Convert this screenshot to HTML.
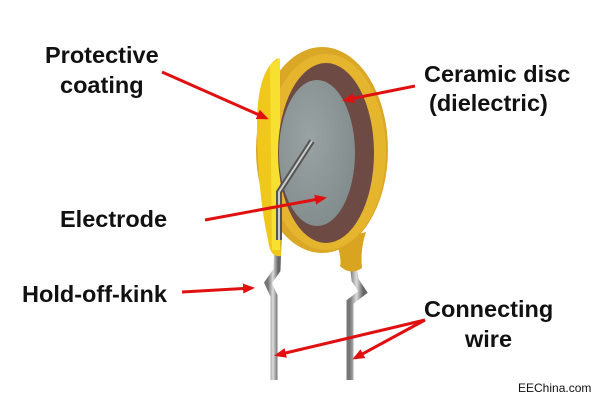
<!DOCTYPE html>
<html><head><style>
body{margin:0;background:#fff}
svg{display:block}
text{font-family:"Liberation Sans",Arial,sans-serif;font-weight:bold;font-size:23.5px;fill:#111}
</style></head><body>
<svg width="600" height="400" viewBox="0 0 600 400" xmlns="http://www.w3.org/2000/svg">
<defs>
<marker id="a" markerWidth="12" markerHeight="10" refX="9" refY="5" orient="auto" markerUnits="userSpaceOnUse"><path d="M0,0 L12,5 L0,10 z" fill="#e01010"/></marker>
<linearGradient id="w" x1="0" x2="1"><stop offset="0" stop-color="#777"/><stop offset="0.5" stop-color="#ddd"/><stop offset="1" stop-color="#666"/></linearGradient>
<radialGradient id="g" cx="0.4" cy="0.4" r="0.7"><stop offset="0" stop-color="#9aa3a3"/><stop offset="1" stop-color="#7f8a8a"/></radialGradient>
</defs>
<path d="M278,240 L277,270 L268,283 L274,296 L274,380" stroke="url(#w)" stroke-width="7" fill="none"/>
<path d="M353,262 L355,280 L363,292 L350,302 L350,380" stroke="url(#w)" stroke-width="7" fill="none"/>
<path d="M336,240 Q342,260 340,266 Q350,276 362,268 Q360,250 366,232 Z" fill="#d9a520"/>
<ellipse cx="322" cy="150" rx="66" ry="103" fill="#dba726"/>
<ellipse cx="326" cy="152" rx="60" ry="98" fill="#e5b52e"/>
<path d="M257,120 Q258,70 278,58 L281,256 Q270,258 268,240 Q257,190 257,120 Z" fill="#f0c81c"/>
<path d="M270,65 L280,58 L280,250 L272,250 Z" fill="#f7e030"/>
<ellipse cx="326" cy="153" rx="48" ry="90" fill="#6e4a45"/>
<ellipse cx="317" cy="153" rx="38" ry="73" fill="url(#g)"/>
<path d="M279,240 L279,192 L312,141" stroke="#555" stroke-width="6" fill="none"/>
<path d="M279,240 L279,192 L312,141" stroke="#ccc" stroke-width="2" fill="none"/>
<g stroke="#e01010" stroke-width="3" fill="none" marker-end="url(#a)">
<line x1="162" y1="72" x2="266" y2="118"/>
<line x1="415" y1="86" x2="345" y2="100"/>
<line x1="205" y1="220" x2="324" y2="198"/>
<line x1="182" y1="292" x2="252" y2="288"/>
<line x1="425" y1="320" x2="277" y2="355"/>
<line x1="425" y1="320" x2="355" y2="358"/>
</g>
<text x="45" y="63">Protective</text>
<text x="60" y="93">coating</text>
<text x="424" y="82">Ceramic disc</text>
<text x="429" y="111">(dielectric)</text>
<text x="60" y="227">Electrode</text>
<text x="22" y="302">Hold-off-kink</text>
<text x="424" y="317">Connecting</text>
<text x="465" y="347">wire</text>
<text x="518" y="392" style="font-weight:normal;font-size:12px">EEChina.com</text>
</svg>
</body></html>
